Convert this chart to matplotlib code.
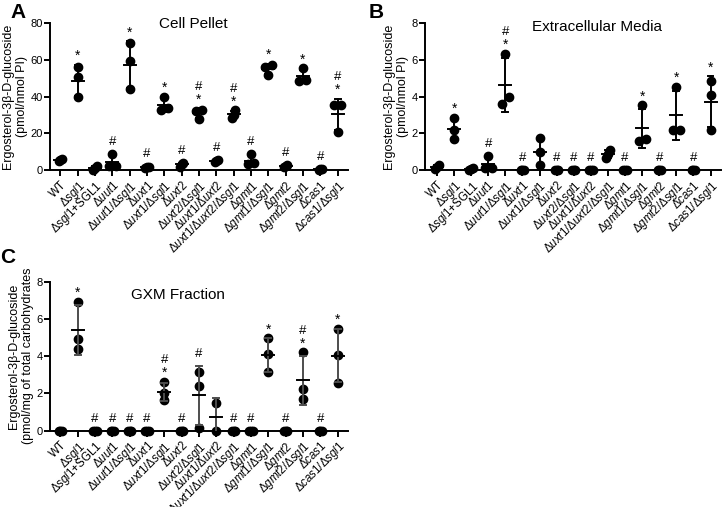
import numpy as np
import matplotlib.pyplot as plt

plt.rcParams['font.family'] = ['Liberation Sans', 'DejaVu Sans']
plt.rcParams['mathtext.fontset'] = 'custom'
plt.rcParams['mathtext.rm'] = 'Liberation Sans'
plt.rcParams['mathtext.it'] = 'Liberation Sans:italic'

# strains (same order in every panel)
strains = ['WT', 'Δsgl1', 'Δsgl1+SGL1', 'Δuut1', 'Δuut1/Δsgl1', 'Δuxt1',
           'Δuxt1/Δsgl1', 'Δuxt2', 'Δuxt2/Δsgl1', 'Δuxt1/Δuxt2',
           'Δuxt1/Δuxt2/Δsgl1', 'Δgmt1', 'Δgmt1/Δsgl1', 'Δgmt2',
           'Δgmt2/Δsgl1', 'Δcas1', 'Δcas1/Δsgl1']

# A - cell pellet (pmol/nmol PI)
pellet = [[5.0, 5.5, 6.0], [56.2, 50.5, 39.6], [2.5, 1.5, 0.3],
          [8.7, 2.5, 2.5], [69.1, 59.2, 44.0], [2.0, 2.0, 1.5],
          [40.0, 33.0, 34.0], [4.0, 3.5, 2.0], [32.9, 32.0, 28.0],
          [5.5, 5.0, 4.5], [32.5, 30.2, 28.4], [8.7, 3.8, 3.4],
          [57.0, 56.2, 52.0], [3.0, 2.5, 2.0], [55.3, 49.3, 48.4],
          [0.5, 0.3, 0.8], [35.2, 35.2, 20.7]]
pellet_sig = ['', '*', '', '#', '*', '#', '*', '#', '#*', '#', '#*', '#',
              '*', '#', '*', '#', '#*']

# B - extracellular media (pmol/nmol PI)
media = [[0.3, 0.2, 0.05], [2.84, 2.2, 1.71], [0.15, 0.05, 0.0],
         [0.76, 0.11, 0.11], [6.33, 3.96, 3.6], [0.0, 0.0, 0.0],
         [1.75, 1.02, 0.29], [0.0, 0.0, 0.0], [0.0, 0.0, 0.0],
         [0.0, 0.0, 0.0], [1.1, 0.87, 0.69], [0.0, 0.0, 0.0],
         [3.52, 1.71, 1.6], [0.0, 0.0, 0.0], [4.53, 2.2, 2.2],
         [0.0, 0.0, 0.0], [4.87, 4.11, 2.18]]
media_sig = ['', '*', '', '#', '#*', '#', '', '#', '#', '#', '', '#',
             '*', '#', '*', '#', '*']

# C - GXM fraction (pmol/mg of total carbohydrates)
gxm = [[0.0, 0.0, 0.0], [6.92, 4.91, 4.41], [0.0, 0.0, 0.0],
       [0.0, 0.0, 0.0], [0.0, 0.0, 0.0], [0.0, 0.0, 0.0],
       [2.62, 2.0, 1.64], [0.0, 0.0, 0.0], [3.16, 2.41, 0.12],
       [1.46, 0.0], [0.0, 0.0, 0.0], [0.0, 0.0, 0.0],
       [4.95, 4.09, 3.16], [0.0, 0.0, 0.0], [4.2, 2.21, 1.68],
       [0.0, 0.0, 0.0], [5.44, 4.06, 2.57]]
gxm_sig = ['', '*', '#', '#', '#', '#', '#*', '#', '#', '', '#', '#',
           '*', '#', '#*', '#', '*']


def fmt(name):
    if not name.startswith('Δ'):
        return name
    extra = ''
    if '+' in name:
        name, extra = name.split('+')
        extra = '+' + extra
    parts = [r'\Delta\mathit{%s}' % p[1:] for p in name.split('/')]
    return '$' + '/'.join(parts) + '$' + extra


def spread(vals, thr):
    # side-by-side offsets for points that would overlap
    vals = np.asarray(vals)
    order = np.argsort(vals)
    off = np.zeros(len(vals))
    clusters = [[order[0]]]
    for i in order[1:]:
        if vals[i] - vals[clusters[-1][-1]] < thr:
            clusters[-1].append(i)
        else:
            clusters.append([i])
    for c in clusters:
        if len(c) == 2:
            off[c] = [-0.2, 0.2]
        elif len(c) == 3:
            off[c] = [-0.1, 0.0, 0.1]
    return off


def panel(ax, data, sig, ymax, title, tx, ty, ylabel, barcol='black'):
    for i, vals in enumerate(data):
        vals = np.asarray(vals)
        m = vals.mean()
        sd = vals.std(ddof=1)
        off = spread(vals, ymax * 0.045)
        ax.plot(i + off, vals, 'o', color='black', ms=6, clip_on=False, zorder=3)
        ax.plot([i, i], [m - sd, m + sd], color=barcol, lw=1.4, zorder=4)
        for y in (m - sd, m + sd):
            ax.plot([i - 0.17, i + 0.17], [y, y], color=barcol, lw=1.4, zorder=4)
        ax.plot([i - 0.35, i + 0.35], [m, m], color='black', lw=1.4, zorder=4,
                clip_on=False)
        top = max(vals.max(), m + sd)
        if '*' in sig[i]:
            ax.annotate('*', (i, top), xytext=(0, 3.5), textcoords='offset points',
                        ha='center', va='baseline', fontsize=10)
            if '#' in sig[i]:
                ax.annotate('#', (i, top), xytext=(0, 13.5), textcoords='offset points',
                            ha='center', va='baseline', fontsize=9.5)
        elif '#' in sig[i]:
            ax.annotate('#', (i, top), xytext=(0, 6.5), textcoords='offset points',
                        ha='center', va='baseline', fontsize=9.5)
    ax.set_ylim(0, ymax)
    ax.set_yticks(np.linspace(0, ymax, 5))
    ax.set_xticks(range(len(strains)))
    ax.set_xticklabels([fmt(s) for s in strains], rotation=45, ha='right',
                       rotation_mode='anchor', fontsize=8.3)
    ax.tick_params(axis='y', labelsize=8, width=1.4, length=4, pad=1)
    ax.tick_params(axis='x', width=1.4, length=4, pad=2)
    for s in ['top', 'right']:
        ax.spines[s].set_visible(False)
    for s in ['left', 'bottom']:
        ax.spines[s].set_linewidth(1.4)
    ax.set_ylabel(ylabel, fontsize=9, labelpad=2)
    ax.text(tx, ty, title, transform=ax.transAxes, ha='center', va='center',
            fontsize=11)


fig = plt.figure(figsize=(7.23, 5.07), dpi=100)
axA = fig.add_axes([0.0692, 0.6641, 0.4121, 0.2905])
axB = fig.add_axes([0.5878, 0.6641, 0.4092, 0.2905])
axC = fig.add_axes([0.0692, 0.1507, 0.4121, 0.2937])

lab = 'Ergosterol-3β-D-glucoside\n(pmol/nmol PI)'
panel(axA, pellet, pellet_sig, 80, 'Cell Pellet', 0.48, 0.99, lab)
panel(axB, media, media_sig, 8, 'Extracellular Media', 0.58, 0.97, lab)
panel(axC, gxm, gxm_sig, 8, 'GXM Fraction', 0.43, 0.91,
      'Ergosterol-3β-D-glucoside\n(pmol/mg of total carbohydrates',
      barcol='#4d4d4d')
axB.set_xlim(-0.7, 16.6)
axA.set_xlim(-0.6, 16.6)
axC.set_xlim(-0.6, 16.6)

fig.text(0.014, 0.995, 'A', fontsize=15, fontweight='bold', va='top')
fig.text(0.510, 0.995, 'B', fontsize=15, fontweight='bold', va='top')
fig.text(0.0, 0.51, 'C', fontsize=15, fontweight='bold', va='top')

fig.savefig('out.png', dpi=100)
